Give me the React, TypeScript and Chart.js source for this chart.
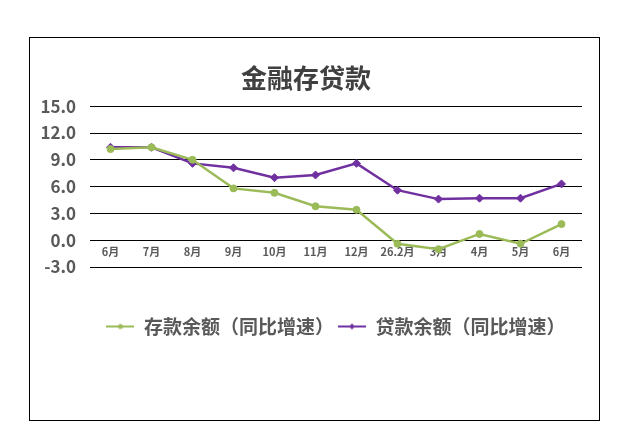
import React, { useEffect, useRef } from "react";
import { Chart, registerables } from "chart.js";

Chart.register(...registerables);

const TITLE = "金融存贷款";
const categories = ["6月", "7月", "8月", "9月", "10月", "11月", "12月", "26.2月", "3月", "4月", "5月", "6月"];
const depositLabel = "存款余额（同比增速）";
const loanLabel = "贷款余额（同比增速）";
const depositGrowth = [10.2, 10.4, 9.0, 5.8, 5.3, 3.8, 3.4, -0.4, -1.0, 0.7, -0.4, 1.8];
const loanGrowth = [10.4, 10.4, 8.6, 8.1, 7.0, 7.3, 8.6, 5.6, 4.6, 4.7, 4.7, 6.3];
const yMin = -3;
const yMax = 15;
const yStep = 3;

const GREEN = "#9BBB59";
const PURPLE = "#7030A0";
const TEXT = "#595959";
const FONT = "'Noto Sans CJK SC', 'Noto Sans', sans-serif";

function makeLegendIcon(color: string, shape: "circle" | "diamond"): HTMLCanvasElement {
  const c = document.createElement("canvas");
  c.width = 28;
  c.height = 10;
  const ctx = c.getContext("2d")!;
  ctx.strokeStyle = color;
  ctx.fillStyle = color;
  ctx.lineWidth = 2;
  ctx.beginPath();
  ctx.moveTo(0, 5);
  ctx.lineTo(28, 5);
  ctx.stroke();
  ctx.beginPath();
  if (shape === "circle") {
    ctx.arc(14, 5, 2.5, 0, Math.PI * 2);
  } else {
    ctx.moveTo(14, 2);
    ctx.lineTo(17, 5);
    ctx.lineTo(14, 8);
    ctx.lineTo(11, 5);
    ctx.closePath();
  }
  ctx.fill();
  return c;
}

export default function App() {
  const ref = useRef<HTMLCanvasElement | null>(null);

  useEffect(() => {
    if (!ref.current) return;
    const icons = [makeLegendIcon(GREEN, "circle"), makeLegendIcon(PURPLE, "diamond")];
    const chart = new Chart(ref.current, {
      type: "line",
      data: {
        labels: categories,
        datasets: [
          {
            label: depositLabel,
            data: depositGrowth,
            borderColor: GREEN,
            backgroundColor: GREEN,
            borderWidth: 2.5,
            pointStyle: "circle",
            pointRadius: 3.5,
            pointBorderWidth: 1,
            tension: 0,
          },
          {
            label: loanLabel,
            data: loanGrowth,
            borderColor: PURPLE,
            backgroundColor: PURPLE,
            borderWidth: 2.5,
            pointStyle: "rectRot",
            pointRadius: 4,
            pointBorderWidth: 1,
            tension: 0,
          },
        ],
      },
      options: {
        animation: false,
        responsive: true,
        maintainAspectRatio: false,
        layout: { padding: { left: 0, right: 17, top: 0, bottom: 74 } },
        scales: {
          x: {
            type: "category",
            position: { y: 0 } as any,
            offset: true,
            grid: { display: false, drawTicks: false },
            border: { display: false },
            ticks: {
              color: TEXT,
              padding: 5,
              maxRotation: 0,
              autoSkip: false,
              font: { family: FONT, size: 11, weight: "bold" },
            },
          },
          y: {
            min: yMin,
            max: yMax,
            border: { display: false },
            grid: { color: "#000000", lineWidth: 1, drawTicks: false },
            afterFit: (s: any) => {
              s.width = 60;
            },
            ticks: {
              stepSize: yStep,
              color: TEXT,
              padding: 14,
              font: { family: FONT, size: 17, weight: "bold" },
              callback: (v: any) => Number(v).toFixed(1),
            },
          },
        },
        plugins: {
          title: {
            display: true,
            text: TITLE,
            color: "#404040",
            font: { family: FONT, size: 26, weight: "bold", lineHeight: 1.2 },
            padding: { top: 25, bottom: 12 },
          },
          legend: {
            position: "bottom",
            fullSize: false,
            title: {
              display: true,
              text: "",
              font: { size: 10, lineHeight: 1 },
              padding: { top: 0, bottom: 36 },
            },
            labels: {
              usePointStyle: true,
              pointStyleWidth: 28,
              padding: 4,
              color: TEXT,
              font: { family: FONT, size: 19, weight: "bold" },
              generateLabels: (c: any) => {
                const items = (Chart.defaults.plugins.legend.labels as any).generateLabels(c);
                items.forEach((it: any, i: number) => {
                  it.pointStyle = icons[i];
                });
                return items;
              },
            },
          },
          tooltip: { enabled: false },
        },
      },
    });
    return () => chart.destroy();
  }, []);

  return (
    <div
      style={{
        position: "absolute",
        left: 29,
        top: 37,
        width: 569,
        height: 382,
        border: "1px solid #000",
        background: "#fff",
      }}
    >
      <canvas ref={ref} />
    </div>
  );
}
